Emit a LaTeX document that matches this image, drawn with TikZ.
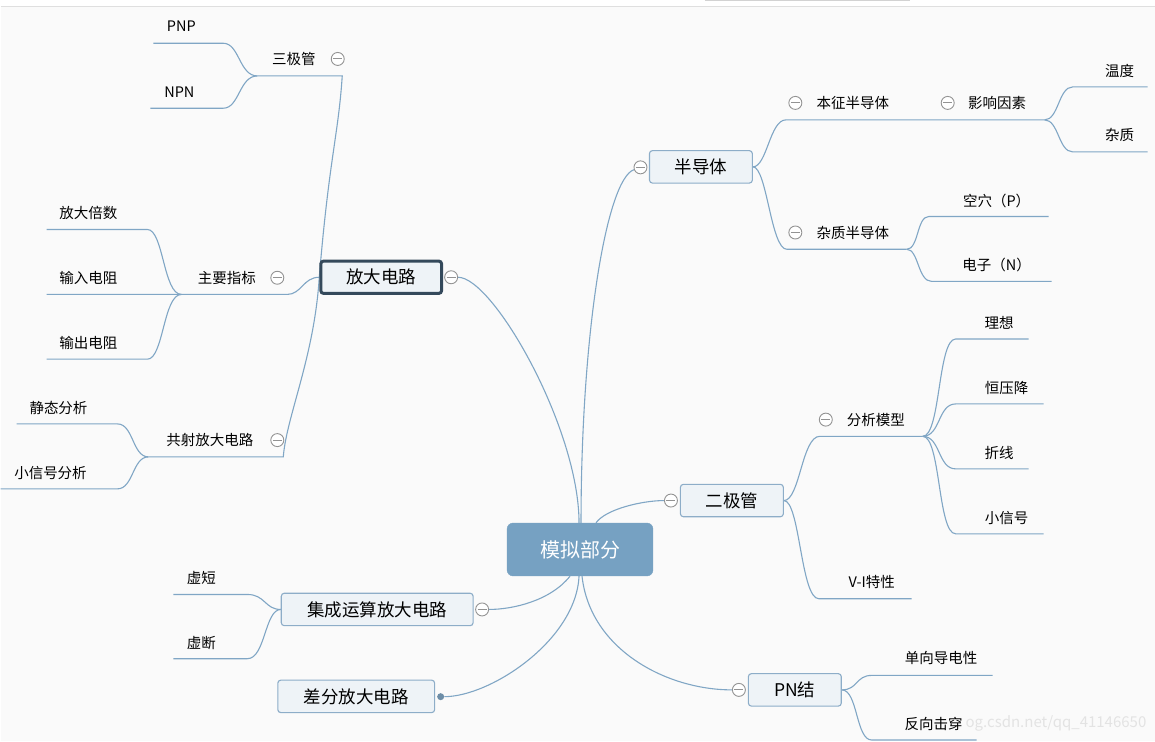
\documentclass[tikz,border=0pt]{standalone}
\usepackage{fontspec}
\setmainfont{Noto Sans CJK SC}
\usetikzlibrary{calc}
\definecolor{linec}{HTML}{80A6C5}
\definecolor{boxfill}{HTML}{EEF3F7}
\definecolor{boxline}{HTML}{8DADC8}
\definecolor{rootfill}{HTML}{76A1C2}
\definecolor{selline}{HTML}{34495B}
\definecolor{bgc}{HTML}{FAFAFA}
\pgfdeclarelayer{paper}
\pgfdeclarelayer{links}
\pgfsetlayers{paper,links,main}

\begin{document}
\begin{tikzpicture}[x=1pt,y=-1pt,
    branch/.style={draw=linec, line width=1.1pt},
    root/.style={rectangle, rounded corners=6pt, fill=rootfill, draw=rootfill, text=white,
      minimum width=146pt, minimum height=53pt, font=\fontsize{20}{24}\selectfont},
    main/.style={rectangle, rounded corners=3pt, fill=boxfill, draw=boxline, line width=1.1pt,
      minimum height=32.5pt, inner sep=0pt, font=\fontsize{17.5}{21}\selectfont},
    leaf/.style={inner sep=0pt, font=\fontsize{14.5}{17}\selectfont},
    fold/.style={circle, draw=gray!85, fill=white, line width=0.9pt, minimum size=13pt, inner sep=0pt,
      path picture={\draw[gray!85, line width=0.9pt]
        ([xshift=-4.5pt]path picture bounding box.center) -- ([xshift=4.5pt]path picture bounding box.center);}}]

    \begin{pgfonlayer}{paper}
        \fill[white] (0,0) rectangle (1155,742);
        \fill[bgc] (0,7) rectangle (1155,742);
        \draw[gray!25, line width=1pt] (0,7) -- (1155,7);
        \draw[gray!35, line width=1.2pt] (705,0.6) -- (910,0.6);
        \node[leaf, text=gray!22, font=\fontsize{15}{18}\selectfont, anchor=east] (mark) at (1147,724) {og.csdn.net/qq\_41146650};
    \end{pgfonlayer}

    % main topics
    \node[root] (root) at (580,550) {模拟部分};
    \node[main, minimum width=103pt] (semi) at (701,167) {半导体};
    \node[main, minimum width=121pt, draw=selline, line width=3pt] (amp) at (381,277.5) {放大电路};
    \node[main, minimum width=103pt] (diode) at (732,501) {二极管};
    \node[main, minimum width=192pt] (opamp) at (377,610) {集成运算放大电路};
    \node[main, minimum width=157pt] (diff) at (356,697) {差分放大电路};
    \node[main, minimum width=93pt] (pn) at (795,690.5) {PN结};

    \node[fold] (fsemi) at (640.5,167.5) {};
    \node[fold] (famp) at (451,277.5) {};
    \node[fold] (fdiode) at (671,501) {};
    \node[fold] (fopamp) at (482,610) {};
    \node[fold] (fpn) at (739,690.5) {};
    \node[circle, fill=linec!85!black, inner sep=0pt, minimum size=7pt] (ddiff) at (440.5,697.3) {};

    % sub topics
    \node[leaf] (bz) at (853,103) {本征半导体};
    \node[fold] (fbz) at (795.5,103) {};
    \node[leaf] (yx) at (997.5,103) {影响因素};
    \node[fold] (fyx) at (948,103) {};
    \node[leaf] (wd) at (1120,71) {温度};
    \node[leaf] (zz) at (1120,135) {杂质};
    \node[leaf] (zzb) at (853,233) {杂质半导体};
    \node[fold] (fzzb) at (795.5,232.7) {};
    \node[leaf] (kx) at (997,201) {空穴（P）};
    \node[leaf] (dz) at (997,265) {电子（N）};

    \node[leaf] (sjg) at (293.5,59) {三极管};
    \node[fold] (fsjg) at (337.5,59) {};
    \node[leaf] (pnp) at (181,26) {PNP};
    \node[leaf] (npn) at (179,92) {NPN};
    \node[leaf] (zyzb) at (226.5,278) {主要指标};
    \node[fold] (fzyzb) at (277,278) {};
    \node[leaf] (fdbs) at (88,213) {放大倍数};
    \node[leaf] (srdz) at (88,278) {输入电阻};
    \node[leaf] (scdz) at (88,343) {输出电阻};
    \node[leaf] (gsfd) at (209.5,440.5) {共射放大电路};
    \node[fold] (fgsfd) at (277,440.5) {};
    \node[leaf] (jtfx) at (58,408) {静态分析};
    \node[leaf] (xxhfx) at (50,473) {小信号分析};

    \node[leaf] (fxmx) at (876,420) {分析模型};
    \node[fold] (ffxmx) at (826,420) {};
    \node[leaf] (lx) at (999.5,323) {理想};
    \node[leaf] (hyj) at (1007,388) {恒压降};
    \node[leaf] (zx) at (999.5,453) {折线};
    \node[leaf] (xxh) at (1007,518) {小信号};
    \node[leaf] (vi) at (872,583) {V-I特性};

    \node[leaf] (xd) at (201,579) {虚短};
    \node[leaf] (xdd) at (201,644) {虚断};

    \node[leaf] (dxdd) at (941.5,659) {单向导电性};
    \node[leaf] (fxjc) at (934,725) {反向击穿};

    % underline ends
    \coordinate (bz0) at (786,120);   \coordinate (bz1) at (1045,120);
    \coordinate (wd0) at (1073,87);   \coordinate (wd1) at (1148,87);
    \coordinate (zz0) at (1073,152);  \coordinate (zz1) at (1148,152);
    \coordinate (zzb0) at (787,249.5); \coordinate (zzb1) at (907,249.5);
    \coordinate (kx0) at (929,216.7); \coordinate (kx1) at (1049,216.7);
    \coordinate (dz0) at (932,281.7); \coordinate (dz1) at (1052,281.7);

    \coordinate (sjg0) at (342,76);   \coordinate (sjg1) at (257,76);
    \coordinate (pnp0) at (223,43.3); \coordinate (pnp1) at (153,43.3);
    \coordinate (npn0) at (223,108.3); \coordinate (npn1) at (150,108.3);
    \coordinate (zyzb0) at (287,294.7); \coordinate (zyzb1) at (181,294.7);
    \coordinate (fdbs0) at (147,229.7); \coordinate (fdbs1) at (46,229.7);
    \coordinate (srdz1) at (46,294.7);
    \coordinate (scdz0) at (147,359.5); \coordinate (scdz1) at (46,359.5);
    \coordinate (gsfd0) at (283,457.3); \coordinate (gsfd1) at (148,457.3);
    \coordinate (jtfx0) at (117,424.3); \coordinate (jtfx1) at (16,424.3);
    \coordinate (xxhfx0) at (117,489.3); \coordinate (xxhfx1) at (0,489.3);

    \coordinate (fxmx0) at (820,436.7); \coordinate (fxmx1) at (923,436.7);
    \coordinate (lx0) at (956,339.3);  \coordinate (lx1) at (1029,339.3);
    \coordinate (hyj0) at (956,404.3); \coordinate (hyj1) at (1044,404.3);
    \coordinate (zx0) at (956,469.3);  \coordinate (zx1) at (1029,469.3);
    \coordinate (xxh0) at (956,534.3); \coordinate (xxh1) at (1044,534.3);
    \coordinate (vi0) at (819,599.3);  \coordinate (vi1) at (912,599.3);

    \coordinate (xd0) at (247,595);    \coordinate (xd1) at (173,595);
    \coordinate (xdd0) at (247,659.3); \coordinate (xdd1) at (173,659.3);

    \coordinate (dxdd0) at (872,676);   \coordinate (dxdd1) at (993,676);
    \coordinate (fxjc0) at (872,740.7); \coordinate (fxjc1) at (977,740.7);

    % connectors
    \begin{pgfonlayer}{links}
    \begin{scope}[branch]
        \draw ([xshift=1pt]root.north) .. controls +(0,-190) and +(-34,12) .. (fsemi);
        \draw ([xshift=-1pt]root.north) .. controls +(0,-95) and +(42,0) .. (famp);
        \draw ([xshift=16pt]root.north) .. controls +(10,-14) and +(-28,0) .. (fdiode);
        \draw ([xshift=-10pt]root.south) .. controls +(-20,25) and +(30,0) .. (fopamp);
        \draw ([xshift=-1pt]root.south) .. controls +(-3,64) and +(50,0) .. (ddiff);
        \draw ([xshift=2pt]root.south) .. controls +(8,73) and +(-73,0) .. (fpn);

        \draw (semi.east) .. controls +(14,0) and +(-16,0) .. (bz0) -- (bz1);
        \draw (bz1) .. controls +(14,0) and +(-14,0) .. (wd0) -- (wd1);
        \draw (bz1) .. controls +(14,0) and +(-14,0) .. (zz0) -- (zz1);
        \draw (semi.east) .. controls +(14,0) and +(-16,0) .. (zzb0) -- (zzb1);
        \draw (zzb1) .. controls +(12,0) and +(-12,0) .. (kx0) -- (kx1);
        \draw (zzb1) .. controls +(12,0) and +(-14,0) .. (dz0) -- (dz1);

        \draw (amp.west) .. controls +(10,-120) and +(-4,60) .. (sjg0) -- (sjg1);
        \draw (sjg1) .. controls +(-18,0) and +(16,0) .. (pnp0) -- (pnp1);
        \draw (sjg1) .. controls +(-18,0) and +(16,0) .. (npn0) -- (npn1);
        \draw (amp.west) .. controls +(-16,0) and +(14,0) .. (zyzb0) -- (zyzb1) -- (srdz1);
        \draw (zyzb1) .. controls +(-18,0) and +(16,0) .. (fdbs0) -- (fdbs1);
        \draw (zyzb1) .. controls +(-18,0) and +(16,0) .. (scdz0) -- (scdz1);
        \draw (amp.west) .. controls +(-5,80) and +(3,-40) .. (gsfd0) -- (gsfd1);
        \draw (gsfd1) .. controls +(-16,0) and +(16,0) .. (jtfx0) -- (jtfx1);
        \draw (gsfd1) .. controls +(-16,0) and +(16,0) .. (xxhfx0) -- (xxhfx1);

        \draw (diode.east) .. controls +(16,0) and +(-18,0) .. (fxmx0) -- (fxmx1);
        \draw (fxmx1) .. controls +(18,0) and +(-18,0) .. (lx0) -- (lx1);
        \draw (fxmx1) .. controls +(18,0) and +(-18,0) .. (hyj0) -- (hyj1);
        \draw (fxmx1) .. controls +(18,0) and +(-18,0) .. (zx0) -- (zx1);
        \draw (fxmx1) .. controls +(18,0) and +(-18,0) .. (xxh0) -- (xxh1);
        \draw (diode.east) .. controls +(16,0) and +(-18,0) .. (vi0) -- (vi1);

        \draw (opamp.west) .. controls +(-16,0) and +(18,0) .. (xd0) -- (xd1);
        \draw (opamp.west) .. controls +(-16,0) and +(18,0) .. (xdd0) -- (xdd1);

        \draw (pn.east) .. controls +(16,0) and +(-16,0) .. (dxdd0) -- (dxdd1);
        \draw (pn.east) .. controls +(16,0) and +(-16,0) .. (fxjc0) -- (fxjc1);
    \end{scope}
    \end{pgfonlayer}
\end{tikzpicture}
\end{document}
